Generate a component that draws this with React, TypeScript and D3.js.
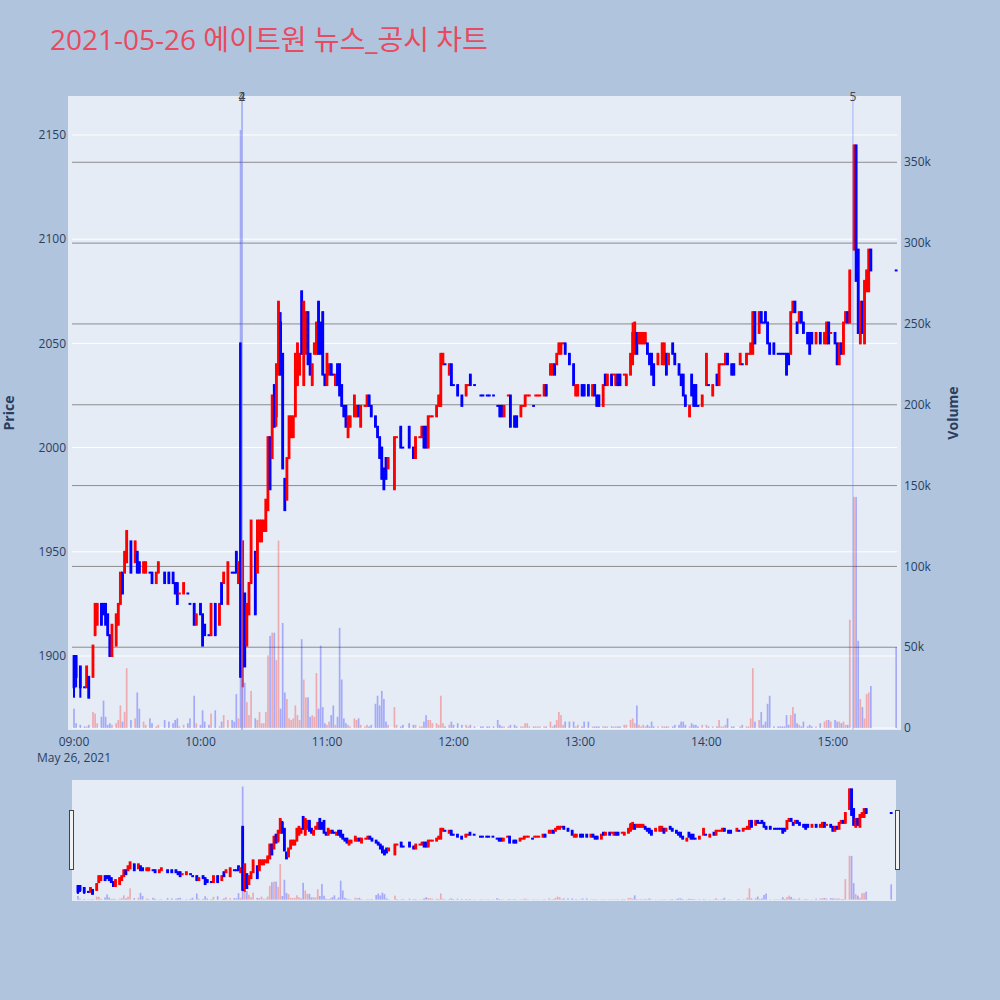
import React from "react";
import * as d3 from "d3";

const TITLE = "2021-05-26 에이트원 뉴스_공시 차트";

// minutes after 09:00
const MINUTES = [0,1,3,5,6,7,9,10,11,13,
14,15,16,17,18,20,21,22,23,24,
25,27,29,30,31,33,34,36,37,39,
40,43,45,47,48,49,50,52,54,55,
57,58,60,61,62,64,65,67,69,70,
71,73,75,76,77,78,79,80,81,82,
83,84,86,87,88,89,90,91,92,93,
94,95,96,97,98,99,100,101,102,103,
104,105,106,107,108,109,110,111,112,113,
114,115,116,117,118,119,120,121,122,123,
124,125,126,127,128,129,130,131,133,134,
135,136,138,139,140,141,143,144,145,146,
147,148,149,152,153,155,156,159,161,162,
164,165,166,167,168,169,170,172,173,174,
175,176,178,179,180,182,184,186,187,188,
190,193,194,196,197,199,201,202,203,204,
206,207,209,210,212,213,214,215,216,218,
219,220,221,223,224,226,227,228,229,230,
231,232,233,235,237,238,239,241,242,244,
246,247,248,249,251,252,253,255,256,257,
258,259,261,262,264,265,266,267,268,269,
270,271,272,273,274,275,277,279,280,281,
282,284,285,287,288,289,290,292,293,294,
295,296,298,300,301,303,305,306,307,308,
309,310,312,313,316,317,319,320,321,322,
323,325,326,327,328,329,330,332,334,335,
336,337,338,339,340,341,342,343,344,345,
346,348,349,350,352,354,356,357,358,359,
361,362,363,364,365,366,367,368,370,371,
372,373,374,375,376,377,378,390];

const OPEN = [1900,1900,1895,1885,1885,1890,1890,1910,1915,1925,
1925,1925,1920,1910,1900,1905,1915,1925,1940,1940,
1945,1955,1945,1950,1945,1940,1940,1940,1940,1935,
1940,1940,1940,1940,1935,1935,1930,1930,1930,1925,
1925,1915,1925,1920,1915,1910,1910,1925,1915,1935,
1935,1925,1940,1940,1950,1935,2050,1895,1930,1905,
1920,1935,1950,1940,1955,1955,1960,1960,1970,2005,
1995,2030,2015,2035,2060,2045,1985,1975,1995,2005,
2005,2015,2030,2035,2075,2030,2045,2065,2045,2030,
2045,2045,2070,2060,2065,2035,2030,2035,2040,2035,
2030,2040,2040,2030,2020,2020,2005,2010,2015,2015,
2020,2010,2020,2020,2025,2020,2015,2010,2005,2000,
1990,1995,1990,1980,2005,2010,2000,2010,2000,1995,
2005,2005,2010,2010,2000,2015,2015,2015,2020,2020,
2040,2040,2035,2040,2030,2030,2025,2025,2030,2035,
2030,2025,2025,2025,2025,2025,2020,2020,2020,2015,
2025,2025,2015,2015,2015,2020,2020,2025,2025,2020,
2025,2025,2025,2025,2030,2035,2035,2040,2040,2045,
2045,2050,2050,2045,2040,2025,2025,2030,2030,2030,
2025,2030,2025,2025,2020,2035,2030,2035,2035,2030,
2035,2035,2035,2030,2035,2040,2045,2055,2050,2050,
2050,2050,2050,2045,2045,2040,2040,2040,2040,2045,
2040,2050,2045,2040,2035,2035,2025,2015,2035,2030,
2030,2020,2020,2030,2030,2025,2035,2030,2040,2040,
2040,2045,2040,2040,2040,2040,2040,2045,2045,2045,
2065,2055,2065,2060,2065,2060,2050,2050,2045,2045,
2045,2045,2045,2045,2045,2065,2070,2060,2060,2065,
2060,2055,2055,2055,2050,2055,2050,2050,2060,2055,
2055,2050,2040,2050,2045,2060,2065,2060,2095,2145,
2095,2050,2070,2050,2075,2075,2095,2085];

const HIGH = [1900,1900,1895,1885,1895,1890,1905,1925,1925,1925,
1925,1925,1920,1910,1915,1920,1925,1940,1940,1950,
1960,1955,1955,1950,1945,1945,1945,1940,1940,1940,
1945,1940,1940,1940,1935,1935,1930,1935,1930,1925,
1925,1920,1925,1920,1915,1910,1925,1925,1925,1935,
1940,1945,1940,1940,1950,1945,2050,1955,1930,1925,
1935,1965,1950,1965,1965,1965,1965,1975,2005,2005,
2025,2030,2040,2070,2065,2045,1985,1995,2015,2015,
2015,2045,2050,2045,2075,2070,2065,2065,2045,2040,
2050,2060,2070,2060,2065,2035,2045,2040,2040,2035,
2035,2040,2040,2030,2020,2020,2015,2015,2025,2020,
2020,2020,2020,2025,2025,2020,2015,2010,2005,2000,
1990,1995,1995,2005,2005,2010,2000,2010,2000,2005,
2005,2010,2010,2010,2015,2015,2015,2020,2025,2045,
2045,2040,2040,2040,2030,2030,2025,2030,2030,2035,
2030,2025,2025,2025,2025,2025,2020,2020,2020,2020,
2025,2025,2015,2015,2020,2020,2025,2025,2025,2020,
2025,2025,2025,2030,2030,2040,2040,2040,2045,2050,
2050,2050,2050,2045,2040,2030,2030,2030,2030,2030,
2030,2030,2025,2025,2030,2035,2035,2035,2035,2035,
2035,2035,2035,2035,2045,2060,2060,2055,2055,2055,
2055,2055,2050,2045,2045,2040,2045,2050,2050,2045,
2045,2050,2045,2040,2035,2035,2025,2020,2035,2030,
2030,2020,2025,2045,2030,2030,2035,2040,2040,2040,
2045,2045,2040,2040,2045,2040,2045,2045,2050,2065,
2065,2065,2065,2060,2065,2060,2050,2050,2045,2045,
2045,2045,2045,2045,2065,2070,2070,2060,2065,2065,
2060,2055,2055,2055,2055,2055,2055,2060,2060,2055,
2055,2050,2050,2050,2060,2065,2065,2085,2145,2145,
2095,2070,2070,2080,2085,2095,2095,2085];

const LOW = [1880,1885,1880,1885,1885,1880,1890,1910,1915,1915,
1920,1915,1910,1900,1900,1905,1915,1925,1930,1940,
1945,1940,1945,1940,1940,1940,1940,1940,1935,1935,
1940,1935,1935,1935,1930,1925,1930,1930,1930,1925,
1915,1915,1920,1905,1910,1910,1910,1910,1915,1925,
1935,1925,1940,1940,1940,1935,1890,1885,1895,1905,
1920,1935,1920,1940,1955,1955,1960,1960,1970,1980,
1995,2010,2010,2035,2035,1990,1970,1975,1995,2005,
2005,2015,2030,2035,2045,2030,2045,2040,2035,2030,
2045,2045,2045,2045,2035,2030,2030,2035,2035,2035,
2030,2030,2025,2020,2015,2010,2005,2010,2015,2015,
2015,2010,2020,2020,2020,2015,2010,2005,1995,1985,
1980,1985,1990,1980,2005,2000,2000,2000,1995,1995,
2005,2005,2000,2000,2000,2015,2015,2015,2020,2020,
2040,2040,2035,2030,2030,2025,2020,2025,2030,2030,
2030,2025,2025,2025,2025,2025,2020,2015,2015,2015,
2025,2010,2010,2010,2015,2020,2020,2025,2025,2020,
2025,2025,2025,2025,2025,2035,2035,2035,2040,2045,
2045,2050,2045,2040,2030,2025,2025,2025,2025,2025,
2025,2025,2020,2020,2020,2030,2030,2030,2035,2030,
2030,2030,2035,2030,2035,2040,2045,2045,2050,2050,
2050,2050,2045,2040,2035,2030,2040,2040,2040,2035,
2040,2045,2040,2035,2030,2025,2020,2015,2025,2020,
2020,2020,2020,2030,2030,2025,2030,2030,2040,2040,
2040,2040,2035,2035,2040,2040,2040,2045,2045,2045,
2050,2055,2060,2060,2060,2050,2045,2045,2045,2045,
2045,2045,2035,2040,2045,2065,2065,2055,2060,2060,
2055,2050,2045,2050,2050,2050,2050,2050,2050,2055,
2050,2040,2040,2045,2045,2060,2060,2060,2095,2080,
2055,2050,2055,2050,2075,2075,2085,2085];

const CLOSE = [1885,1890,1885,1885,1895,1880,1905,1925,1925,1915,
1920,1915,1910,1900,1915,1920,1925,1940,1930,1950,
1960,1940,1955,1940,1940,1945,1945,1940,1935,1940,
1945,1935,1935,1935,1930,1925,1930,1935,1930,1925,
1915,1920,1920,1905,1910,1910,1925,1910,1925,1925,
1940,1945,1940,1940,1940,1945,1890,1955,1895,1925,
1935,1965,1920,1965,1965,1965,1965,1975,2005,1980,
2025,2010,2040,2070,2035,1990,1970,1995,2015,2015,
2015,2045,2050,2045,2045,2070,2065,2040,2035,2040,
2050,2060,2045,2045,2035,2030,2045,2040,2035,2035,
2035,2030,2025,2020,2015,2010,2015,2015,2025,2020,
2015,2020,2020,2025,2020,2015,2010,2005,1995,1985,
1980,1985,1995,2005,2005,2000,2000,2000,1995,2005,
2005,2010,2000,2000,2015,2015,2015,2020,2025,2045,
2045,2040,2040,2030,2030,2025,2020,2030,2030,2030,
2030,2025,2025,2025,2025,2025,2020,2015,2015,2020,
2025,2010,2010,2010,2020,2020,2025,2025,2025,2020,
2025,2025,2025,2030,2025,2040,2040,2035,2045,2050,
2050,2050,2045,2040,2030,2030,2030,2025,2025,2025,
2030,2025,2020,2020,2030,2030,2035,2030,2035,2035,
2030,2030,2035,2035,2045,2055,2060,2045,2055,2055,
2055,2055,2045,2040,2035,2030,2045,2050,2050,2035,
2045,2045,2040,2035,2030,2025,2020,2020,2025,2020,
2020,2020,2025,2045,2030,2030,2030,2040,2040,2040,
2045,2040,2035,2035,2045,2040,2045,2045,2050,2065,
2050,2065,2060,2060,2060,2050,2045,2045,2045,2045,
2045,2045,2035,2040,2065,2070,2065,2055,2065,2060,
2055,2050,2045,2050,2055,2050,2055,2060,2050,2055,
2050,2040,2050,2045,2060,2065,2060,2085,2145,2080,
2055,2070,2055,2080,2085,2095,2085,2085];

// thousands of shares
const VOLUME_K = [12,3,2,1,1,2,10,9,3,7,
17,7,2,3,2,3,5,14,4,10,
37,5,6,22,12,4,2,6,3,1,
2,5,4,3,5,6,1,2,3,6,
20,3,2,11,4,2,9,11,1,4,
8,5,5,4,21,6,370,30,28,16,
8,23,6,5,10,3,3,10,45,57,
59,59,42,116,12,65,22,18,6,5,
6,14,8,5,55,30,19,19,7,8,
7,34,12,51,13,3,2,4,8,14,
2,7,62,30,6,3,2,1,6,5,
6,2,1,2,1,2,15,20,14,23,
18,4,2,13,2,1,2,3,2,2,
1,1,4,8,5,5,3,3,2,20,
3,1,2,4,2,3,2,2,1,2,
1,1,1,1,1,1,5,2,1,1,
1,2,2,1,1,1,3,3,1,1,
1,1,1,1,1,4,1,2,5,10,
8,2,4,4,4,1,2,1,4,4,
1,1,1,1,1,1,1,1,1,1,
1,1,2,2,5,6,3,14,2,1,
2,1,2,1,4,1,1,1,1,1,
1,1,2,2,4,4,2,1,3,2,
2,1,2,2,1,1,1,5,1,1,
2,6,1,1,1,2,1,1,6,37,
4,5,10,2,4,15,20,1,1,1,
1,1,8,2,8,13,9,3,2,1,
4,1,2,1,1,3,4,5,5,4,
5,4,4,3,4,2,2,67,143,143,
54,18,13,6,21,22,26,50];

const PRICE_TICKS = [1900, 1950, 2000, 2050, 2100, 2150];
const VOLUME_TICKS_K = [0, 50, 100, 150, 200, 250, 300, 350];
const HOUR_TICKS = [9, 10, 11, 12, 13, 14, 15];
const MARKER_MINUTES = [79.7, 79.7, 369.5];
const MARKER_LABELS = ["2", "4", "5"];

const BASE = new Date(2021, 4, 26, 9, 0, 0).getTime();
const toDate = (m: number) => new Date(BASE + m * 60000);

const UP = "#ff0000";
const DOWN = "#0000ff";
const FONT = "'Open Sans', 'Noto Sans CJK KR', sans-serif";
const TEXT = "#2a3f5f";

function directions(): boolean[] {
  const dirs: boolean[] = [];
  let prevC: number | null = null;
  let up = true;
  for (let i = 0; i < MINUTES.length; i++) {
    const o = OPEN[i], c = CLOSE[i];
    if (c > o) up = true;
    else if (c < o) up = false;
    else if (prevC !== null && c !== prevC) up = c > prevC;
    dirs.push(up);
    prevC = c;
  }
  return dirs;
}

const DIRS = directions();

function Marks({ x, yP, yV }: { x: any; yP: any; yV: any }) {
  const v0 = yV(0);
  return (
    <g>
      {MINUTES.map((m, i) => {
        const cx = x(toDate(m));
        const yv = yV(VOLUME_K[i]);
        return (
          <rect key={"v" + i} x={cx - 0.85} width={1.7} y={yv} height={Math.max(0, v0 - yv)}
            fill={DIRS[i] ? UP : DOWN} fillOpacity={0.28} />
        );
      })}
      {MINUTES.map((m, i) => {
        const cx = x(toDate(m));
        const col = DIRS[i] ? UP : DOWN;
        const yh = yP(HIGH[i]);
        const yl = yP(LOW[i]);
        const yt = yP(Math.max(OPEN[i], CLOSE[i]));
        const yb = yP(Math.min(OPEN[i], CLOSE[i]));
        return (
          <g key={"c" + i} fill={col}>
            <rect x={cx - 1} width={2} y={yh} height={Math.max(0.01, yl - yh)} />
            <rect x={cx - 1.4} width={2.8} y={yt - 1} height={yb - yt + 2} />
          </g>
        );
      })}
    </g>
  );
}

export default function App() {
  const x = d3.scaleTime().domain([toDate(-2.85), toDate(392.3)]).range([68, 901]);
  const yP = d3.scaleLinear().domain([1864.5, 2168.7]).range([730, 96]);
  const yV = d3.scaleLinear().domain([-1.2, 391]).range([730, 96]);

  const xs = d3.scaleTime().domain([toDate(-2.85), toDate(392.3)]).range([72, 896]);
  const yPs = d3.scaleLinear().domain([1864.5, 2168.7]).range([900, 780]);
  const yVs = d3.scaleLinear().domain([-1.2, 391]).range([900, 780]);

  const fmt = d3.timeFormat("%H:%M");

  return (
    <svg width={1000} height={1000} style={{ display: "block", position: "absolute", left: 0, top: 0 }}
      fontFamily={FONT}>
      <rect x={0} y={0} width={1000} height={1000} fill="#b0c4de" />
      <text x={50} y={50} fontSize={28} fill="#e84a5f">{TITLE}</text>

      <rect x={68} y={96} width={833} height={634} fill="#e5ecf6" />
      {PRICE_TICKS.map((p) => (
        <line key={"pg" + p} x1={72} x2={897} y1={yP(p)} y2={yP(p)} stroke="#ffffff" strokeWidth={1} />
      ))}
      <line x1={72} x2={897} y1={yV(0)} y2={yV(0)} stroke="#ffffff" strokeWidth={1} />
      {VOLUME_TICKS_K.filter((v) => v > 0).map((v) => (
        <line key={"vg" + v} x1={72} x2={897} y1={yV(v)} y2={yV(v)} stroke="#8c8c8c" strokeWidth={1} />
      ))}

      <Marks x={x} yP={yP} yV={yV} />

      {MARKER_MINUTES.map((m, i) => (
        <line key={"ml" + i} x1={x(toDate(m))} x2={x(toDate(m))} y1={96} y2={730}
          stroke="rgb(110,130,235)" strokeOpacity={0.55} strokeWidth={1} />
      ))}
      {MARKER_MINUTES.map((m, i) => (
        <text key={"mt" + i} x={x(toDate(m))} y={101} fontSize={12} fill="#444" textAnchor="middle">
          {MARKER_LABELS[i]}
        </text>
      ))}

      {PRICE_TICKS.map((p) => (
        <text key={"pt" + p} x={66} y={yP(p)} dy="0.35em" fontSize={12} fill={TEXT} textAnchor="end">{p}</text>
      ))}
      {VOLUME_TICKS_K.map((v) => (
        <text key={"vt" + v} x={904} y={yV(v)} dy="0.35em" fontSize={12} fill={TEXT}>
          {v === 0 ? "0" : v + "k"}
        </text>
      ))}
      {HOUR_TICKS.map((h) => {
        const d = toDate((h - 9) * 60);
        return (
          <text key={"xt" + h} x={x(d)} y={746} fontSize={12} fill={TEXT} textAnchor="middle">{fmt(d)}</text>
        );
      })}
      <text x={x(toDate(0))} y={762} fontSize={12} fill={TEXT} textAnchor="middle">May 26, 2021</text>

      <text transform="translate(14,413) rotate(-90)" fontSize={14} fill={TEXT} textAnchor="middle"
        fontWeight="bold">Price</text>
      <text transform="translate(958,413) rotate(-90)" fontSize={14} fill={TEXT} textAnchor="middle"
        fontWeight="bold">Volume</text>

      <rect x={72} y={780} width={824} height={121} fill="#e5ecf6" />
      <Marks x={xs} yP={yPs} yV={yVs} />
      <rect x={69.5} y={810.5} width={4} height={59} fill="#f2f2f2" stroke="#444" strokeWidth={1} />
      <rect x={895.5} y={810.5} width={4} height={59} fill="#f2f2f2" stroke="#444" strokeWidth={1} />
    </svg>
  );
}
